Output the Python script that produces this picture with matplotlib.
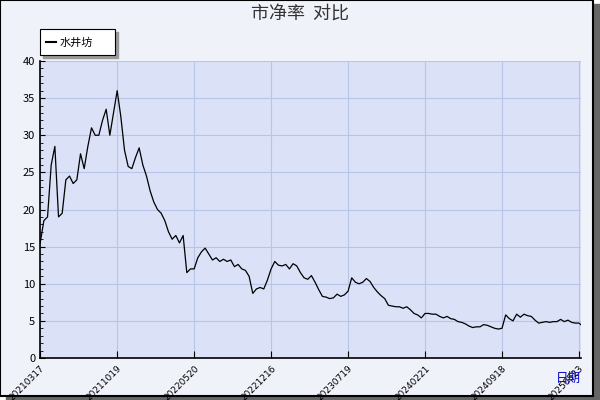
import matplotlib
matplotlib.use("Agg")
import matplotlib.pyplot as plt
from matplotlib.patches import Rectangle
from matplotlib.ticker import MultipleLocator

plt.rcParams['font.family'] = ['Noto Sans CJK SC', 'DejaVu Sans']

values = [15.5,18.5,19,26,28.5,19,19.5,24,24.5,23.5,24,27.5,25.5,28.5,31,30,30,32,33.5,30,
          33,36,32.5,28,25.8,25.5,27,28.3,26,24.5,22.5,21,20,19.5,18.5,17,16,16.5,15.5,16.5,
          11.5,12,12,13.5,14.3,14.8,14,13.2,13.5,13,13.3,13,13.2,12.3,12.6,12,11.8,11,8.7,9.3,
          9.5,9.3,10.5,12,13,12.5,12.4,12.6,12,12.7,12.4,11.5,10.8,10.6,11.1,10.2,9.2,8.3,8.2,8.0,
          8.1,8.6,8.3,8.5,9.0,10.8,10.2,10.0,10.2,10.7,10.3,9.5,8.9,8.4,8.0,7.1,7.0,6.9,6.9,6.7,
          6.9,6.5,6.0,5.8,5.4,6.0,6.0,5.9,5.9,5.6,5.4,5.6,5.3,5.2,4.9,4.8,4.6,4.3,4.1,4.2,
          4.2,4.5,4.4,4.2,4.0,3.9,4.0,5.8,5.3,5.0,5.9,5.5,5.9,5.7,5.6,5.1,4.7,4.8,4.9,4.8,
          4.9,4.9,5.2,4.9,5.1,4.8,4.7,4.7,4.3]
tick_labels = ['20210317','20211019','20220520','20221216','20230719','20240221','20240918','20250523']
tick_pos = [0, 21, 42, 63, 84, 105, 126, 147]

fig = plt.figure(figsize=(6, 4), dpi=100)
fig.patch.set_facecolor('white')
fig.add_artist(Rectangle((0.01, 0.0), 0.99, 0.99, transform=fig.transFigure, color='#666666', zorder=-3))
fig.add_artist(Rectangle((0.0, 0.01), 0.988, 0.99, transform=fig.transFigure, facecolor='#f0f2fa',
                         edgecolor='black', lw=1.5, zorder=-2))

ax = fig.add_axes([0.067, 0.105, 0.901, 0.7425])
ax.set_facecolor('#dbe1f6')
ax.plot(range(len(values)), values, color='black', lw=0.9, label='水井坊')
ax.set_xlim(0, 147.5)
ax.set_ylim(0, 40)
ax.yaxis.set_major_locator(MultipleLocator(5))
ax.yaxis.set_minor_locator(MultipleLocator(1))
ax.set_xticks(tick_pos)
ax.set_xticklabels(tick_labels, rotation=45, ha='right', va='top', rotation_mode='anchor',
                   fontsize=6.5, family='DejaVu Sans')
ax.tick_params(axis='y', labelsize=8, direction='in')
ax.tick_params(axis='x', direction='in', length=5, pad=4)
ax.tick_params(which='minor', direction='in', length=2)
ax.grid(True, color='#b8c4ea', lw=0.8)
for s in ['top', 'right']:
    ax.spines[s].set_visible(False)
ax.spines['left'].set_linewidth(1.2)
ax.spines['bottom'].set_linewidth(1.2)

fig.text(0.5, 0.965, '市净率  对比', ha='center', va='center', fontsize=13, color='#333333')
fig.text(0.948, 0.055, '日期', ha='center', va='center', fontsize=9, color='#0000cc')

fig.add_artist(Rectangle((0.072, 0.855), 0.125, 0.065, transform=fig.transFigure, color='#999999', zorder=5))
fig.add_artist(Rectangle((0.067, 0.862), 0.125, 0.065, transform=fig.transFigure, facecolor='white',
                         edgecolor='black', lw=0.8, zorder=6))
fig.add_artist(plt.Line2D([0.077, 0.093], [0.894, 0.894], transform=fig.transFigure, color='black', lw=1.5, zorder=7))
fig.text(0.1, 0.894, '水井坊', va='center', fontsize=8, zorder=7)

fig.savefig('out.png', dpi=100)
